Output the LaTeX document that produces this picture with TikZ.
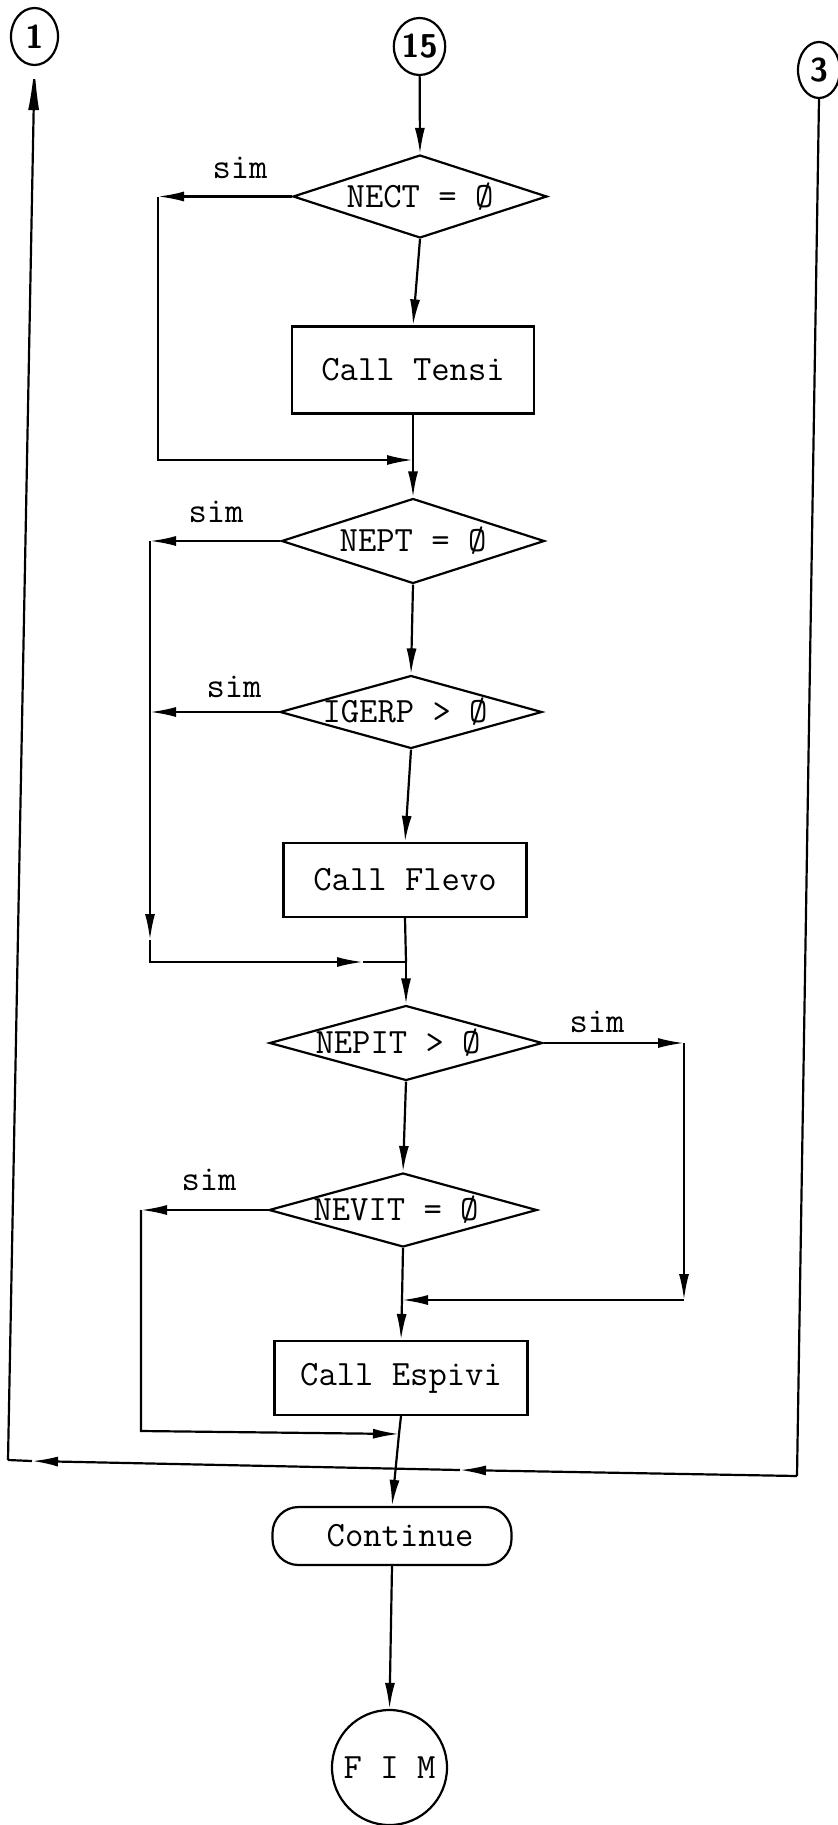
\documentclass[tikz,border=0pt]{standalone}
\usetikzlibrary{shapes.geometric,arrows.meta}
\begin{document}
\begin{tikzpicture}[x=0.5pt,y=-0.5pt,
  line width=1.1pt,
  arr/.style={-{Latex[length=13pt,width=5pt]}},
  arrlong/.style={-{Latex[length=22pt,width=5.5pt]}},
  txt/.style={font=\fontsize{17.8}{20}\selectfont\ttfamily},
  conn/.style={draw,ellipse,inner sep=0pt,font=\fontsize{16.5}{16.5}\selectfont\sffamily\bfseries},
  dia/.style={draw,diamond,inner sep=0pt},
  box/.style={draw,rectangle,inner sep=0pt,txt},
  lbl/.style={txt,inner sep=0pt}]
\useasboundingbox (0,0) rectangle (838,1825);

% connectors (off-page)
\node[conn,minimum width=23.5pt,minimum height=28.5pt] (c1) at (34.5,36.5) {1};
\node[conn,minimum width=22.5pt,minimum height=28.5pt] (c15) at (419.5,46.5) {15};
\node[conn,minimum width=21pt,minimum height=28pt] (c3) at (819,70) {3};

% main column
\node[dia,minimum width=127pt,minimum height=41.5pt,label={[txt]center:NECT = \O}] (d1) at (420,196.5) {};
\node[box,minimum width=121pt,minimum height=43.5pt] (b1) at (413,370) {Call Tensi};
\node[dia,minimum width=131.5pt,minimum height=42.5pt,label={[txt]center:NEPT = \O}] (d2) at (413,541) {};
\node[dia,minimum width=131pt,minimum height=36.5pt,label={[txt,xshift=-3pt]center:IGERP > \O}] (d3) at (411,712) {};
\node[box,minimum width=121.5pt,minimum height=37pt] (b2) at (405,880) {Call Flevo};
\node[dia,minimum width=136.5pt,minimum height=37.5pt,label={[txt,xshift=-4pt]center:NEPIT > \O}] (d4) at (406,1043) {};
\node[dia,minimum width=134pt,minimum height=37pt,label={[txt,xshift=-3.5pt]center:NEVIT = \O}] (d5) at (403,1210) {};
\node[box,minimum width=126.5pt,minimum height=37pt] (b3) at (401,1378) {Call Espivi};
\node[box,rounded corners=13pt,minimum width=119.5pt,minimum height=29pt] (cont) at (392,1536) {\hspace{8pt}Continue};
\node[draw,circle,inner sep=0pt,minimum size=57.5pt,txt] (fim) at (389.5,1767.5) {F I M};

% labels
\node[lbl] (s1) at (240,168) {sim};
\node[lbl] (s2) at (216,512) {sim};
\node[lbl] (s3) at (234,687) {sim};
\node[lbl] (s4) at (597,1022) {sim};
\node[lbl] (s5) at (209,1180) {sim};

% helper coordinates
\coordinate (xL1) at (158,0);
\coordinate (xL2) at (150,0);
\coordinate (xL3) at (141,0);
\coordinate (xR) at (684,0);
\coordinate (j1) at (413,460);
\coordinate (m2) at (150,940);
\coordinate (k2) at (150,962);
\coordinate (m2b) at (363,962);
\coordinate (j2) at (406,962);
\coordinate (k4) at (684,1300);
\coordinate (j4) at (402,1300);
\coordinate (k5) at (141,1431);
\coordinate (j5) at (399,1434);
\coordinate (k3) at (797,1476);
\coordinate (m3) at (460,1470);
\coordinate (m3b) at (32,1461);
\coordinate (k1) at (8,1460);

% main flow
\draw[arr] (c15) -- (d1.north);
\draw[arr] (d1.south) -- (b1.north);
\draw (b1.south) -- (j1);
\draw[arr] (j1) -- (d2.north);
\draw[arr] (d2.south) -- (d3.north);
\draw[arr] (d3.south) -- (b2.north);
\draw (b2.south) -- (j2);
\draw[arr] (j2) -- (d4.north);
\draw[arr] (d4.south) -- (d5.north);
\draw (d5.south) -- (j4);
\draw[arr] (j4) -- (b3.north);
\draw (b3.south) -- (j5);
\draw[arr] (j5) -- (cont.north);
\draw[arr] (cont.south) -- (fim.north);

% loop from NECT
\draw[arr] (d1.west) -- (d1.west -| xL1);
\draw[arr] (d1.west -| xL1) -- (xL1 |- j1) -- (j1);

% loops from NEPT and IGERP
\draw[arr] (d2.west) -- (d2.west -| xL2);
\draw[arr] (d3.west) -- (d3.west -| xL2);
\draw[arr] (d2.west -| xL2) -- (m2);
\draw[arr] (m2) -- (k2) -- (m2b);
\draw (m2b) -- (j2);

% loop from NEPIT (right)
\draw[arr] (d4.east) -- (d4.east -| xR);
\draw[arr] (d4.east -| xR) -- (k4);
\draw[arr] (k4) -- (j4);

% loop from NEVIT
\draw[arr] (d5.west) -- (d5.west -| xL3);
\draw[arr] (d5.west -| xL3) -- (k5) -- (j5);

% long return from 3 to 1
\draw (c3.south) -- (k3);
\draw[arr] (k3) -- (m3);
\draw[arr] (m3) -- (m3b);
\draw (m3b) -- (k1);
\draw[arrlong] (k1) -- (c1.south);
\end{tikzpicture}
\end{document}
